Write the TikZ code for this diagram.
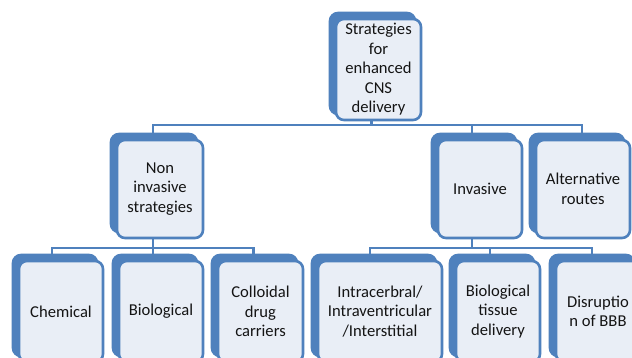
\documentclass[tikz,border=0pt]{standalone}
\usepackage{fontspec}
\setmainfont{Carlito}
\usetikzlibrary{shadows}
\definecolor{sblue}{HTML}{4F81BD}
\definecolor{sfill}{HTML}{E9EEF6}
\definecolor{stext}{HTML}{141414}
\tikzset{
  box/.style={draw=sblue, line width=2.6pt, fill=sfill, rounded corners=8pt,
    inner sep=0pt, align=center, text=stext,
    font=\fontsize{16.6}{19.5}\selectfont,
    general shadow={fill=sblue, draw=sblue, line width=2.6pt, shadow xshift=-6pt, shadow yshift=6pt}},
  bus/.style={draw=sblue, line width=2.4pt}
}
\begin{document}
\begin{tikzpicture}[x=1pt,y=-1pt]
\useasboundingbox (0,0) rectangle (632,358);
\clip (0,0) rectangle (632,358);
\fill[white] (0,0) rectangle (632,358);
% level 0
\node[box, minimum width=85pt, minimum height=101pt] (top) at (378.5,69.5) {Strategies\\for\\enhanced\\CNS\\delivery};
% level 1
\node[box, minimum width=86pt, minimum height=98pt] (ni) at (160,189) {Non\\invasive\\strategies};
\node[box, minimum width=84pt, minimum height=98pt] (inv) at (480,189) {Invasive};
\node[box, minimum width=94pt, minimum height=98pt] (alt) at (583,189) {Alternative\\routes};
% level 2
\node[box, minimum width=84pt, minimum height=101pt] (chem) at (61,311.5) {Chemical};
\node[box, minimum width=84pt, minimum height=101pt] (bio) at (161,311.5) {Biological};
\node[box, minimum width=85pt, minimum height=101pt] (coll) at (260.5,311.5) {Colloidal\\drug\\carriers};
\node[box, minimum width=124pt, minimum height=101pt] (intra) at (380,311.5) {Intracerbral/\\Intraventricular\\/Interstitial};
\node[box, minimum width=84pt, minimum height=101pt] (tis) at (498,311.5) {Biological\\tissue\\delivery};
\node[box, minimum width=84pt, minimum height=101pt] (dis) at (598,311.5) {Disruptio\\n of BBB};
% buses
\coordinate (b1) at (0,125);
\coordinate (b2) at (0,248);
\draw[bus] ([xshift=-7pt]top.south) -- ([xshift=-7pt]top.south |- b1);
\draw[bus] ([xshift=-7pt]ni.north) |- ([xshift=-1pt]alt.north |- b1) -- ([xshift=-1pt]alt.north);
\draw[bus] ([xshift=-8pt]inv.north) -- ([xshift=-8pt]inv.north |- b1);
\draw[bus] ([xshift=-7pt]ni.south) -- ([xshift=-7pt]ni.south |- b2);
\draw[bus] ([xshift=-9pt]chem.north) |- ([xshift=-7pt]coll.north |- b2) -- ([xshift=-7pt]coll.north);
\draw[bus] ([xshift=-8pt]bio.north) -- ([xshift=-8pt]bio.north |- b2);
\draw[bus] ([xshift=-8pt]inv.south) -- ([xshift=-8pt]inv.south |- b2);
\draw[bus] ([xshift=-10pt]intra.north) |- ([xshift=-6pt]dis.north |- b2) -- ([xshift=-6pt]dis.north);
\draw[bus] ([xshift=-8pt]tis.north) -- ([xshift=-8pt]tis.north |- b2);
\end{tikzpicture}
\end{document}
